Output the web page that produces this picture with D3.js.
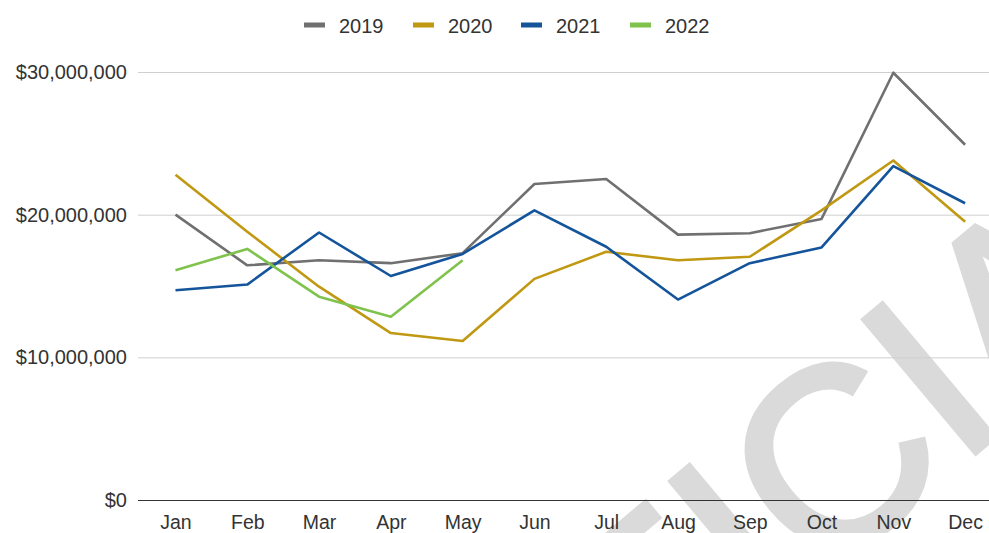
<!DOCTYPE html>
<html>
<head>
<meta charset="utf-8">
<script src="https://cdn.jsdelivr.net/npm/d3@7"></script>
<style>
  html, body { margin: 0; padding: 0; background: #fff; }
  svg { display: block; font-family: "Liberation Sans", Arial, sans-serif; }
</style>
</head>
<body>
<div id="chart"></div>
<script>
// monthly revenue per year
const months = ["Jan", "Feb", "Mar", "Apr", "May", "Jun", "Jul", "Aug", "Sep", "Oct", "Nov", "Dec"];
const years = ["2019", "2020", "2021", "2022"];
const sales2019 = [20.0, 16.45, 16.8, 16.6, 17.3, 22.15, 22.5, 18.6, 18.7, 19.7, 29.95, 24.9].map(d => d * 1e6);
const sales2020 = [22.8, 18.8, 14.95, 11.7, 11.15, 15.5, 17.4, 16.8, 17.05, 20.3, 23.8, 19.5].map(d => d * 1e6);
const sales2021 = [14.7, 15.1, 18.75, 15.7, 17.25, 20.3, 17.75, 14.05, 16.6, 17.7, 23.4, 20.8].map(d => d * 1e6);
const sales2022 = [16.1, 17.6, 14.25, 12.85, 16.8].map(d => d * 1e6);
const yTicks = [0, 10e6, 20e6, 30e6];

const seriesValues = [sales2019, sales2020, sales2021, sales2022];
const colors = ["#707070", "#c09812", "#14549a", "#7fc24c"];

const W = 989, H = 533;
const svg = d3.select("#chart").append("svg")
    .attr("width", W).attr("height", H);

// big watermark behind the chart
svg.append("text")
    .attr("transform", "translate(379,953) rotate(-40)")
    .attr("font-size", 252)
    .attr("fill", "#dadada")
    .attr("stroke", "#dadada")
    .attr("stroke-width", 6)
    .text("OFFICIAL");

const x = d3.scalePoint().domain(months).range([139.6, 1001]).padding(0.5);
const y = d3.scaleLinear().domain([0, 30e6]).range([500, 72]);

/* ---- grid + y labels ---- */
const fmt = d => "$" + d3.format(",")(d);
const yAxis = svg.append("g")
    .attr("transform", "translate(138,0)")
    .call(d3.axisLeft(y).tickValues(yTicks).tickSize(-(W - 138)).tickPadding(11).tickFormat(fmt));
yAxis.select(".domain").remove();
yAxis.selectAll(".tick line")
    .attr("stroke", d => d === 0 ? "#333" : "#cfcfcf")
    .attr("stroke-width", d => d === 0 ? 1.2 : 1);
yAxis.selectAll(".tick text")
    .attr("font-size", 20).attr("fill", "#333").attr("font-family", null);

/* ---- x labels ---- */
const xAxis = svg.append("g")
    .attr("transform", "translate(0,500)")
    .call(d3.axisBottom(x).tickSize(0).tickPadding(15));
xAxis.select(".domain").remove();
xAxis.selectAll(".tick text")
    .attr("font-size", 19.5).attr("fill", "#333").attr("font-family", null);

/* ---- lines ---- */
const line = d3.line()
    .x((d, i) => x(months[i]))
    .y(d => y(d));

svg.append("g").selectAll("path")
    .data(seriesValues)
    .join("path")
    .attr("d", line)
    .attr("fill", "none")
    .attr("stroke", (d, i) => colors[i])
    .attr("stroke-width", 2.6)
    .attr("stroke-linejoin", "round");

/* ---- legend ---- */
const legendX = [304, 413, 521, 630];
const legend = svg.append("g").selectAll("g")
    .data(years)
    .join("g")
    .attr("transform", (d, i) => `translate(${legendX[i]},25)`);
legend.append("rect")
    .attr("x", 0).attr("y", -2.5).attr("width", 21).attr("height", 5)
    .attr("fill", (d, i) => colors[i]);
legend.append("text")
    .attr("x", 35).attr("y", 8)
    .attr("font-size", 20).attr("fill", "#333")
    .text(d => d);
</script>
</body>
</html>
